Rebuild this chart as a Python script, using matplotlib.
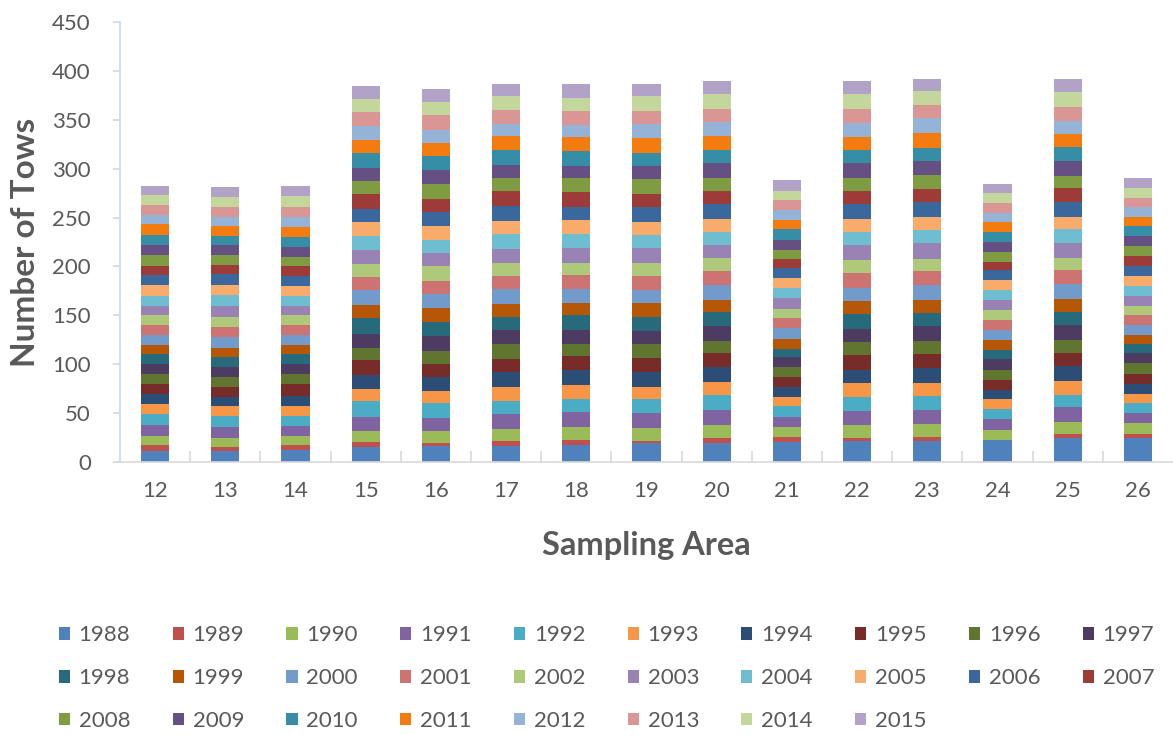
import numpy as np
import matplotlib
matplotlib.use("Agg")
import matplotlib.pyplot as plt
from matplotlib.patches import Patch

plt.rcParams['font.family'] = ['Lato', 'DejaVu Sans']

areas = ["12", "13", "14", "15", "16", "17", "18", "19", "20", "21", "22", "23", "24", "25", "26"]
years = [str(y) for y in range(1988, 2016)]

# Tows per year (1988 ... 2015) for each sampling area
area_12 = [11, 6, 10, 11, 11, 10, 11, 10, 10, 10, 10, 10, 10, 10, 10, 10, 10, 11, 10, 10, 11, 10, 10, 11, 10, 10, 10, 9]
area_13 = [11, 4, 10, 11, 11, 10, 10, 10, 10, 10, 10, 10, 11, 10, 10, 12, 11, 10, 11, 10, 10, 10, 9, 10, 10, 10, 10, 10]
area_14 = [12, 5, 10, 10, 10, 10, 11, 12, 10, 10, 10, 10, 10, 10, 10, 10, 10, 10, 10, 11, 9, 10, 10, 10, 11, 10, 11, 10]
area_15 = [15, 5, 12, 14, 16, 13, 14, 15, 13, 14, 16, 14, 15, 13, 14, 14, 14, 14, 14, 15, 13, 14, 15, 13, 15, 14, 13, 14]
area_16 = [16, 3, 13, 13, 15, 13, 14, 13, 14, 15, 14, 15, 14, 13, 15, 14, 13, 14, 15, 13, 15, 15, 14, 13, 14, 15, 13, 14]
area_17 = [16, 6, 12, 15, 13, 15, 15, 13, 16, 14, 13, 14, 15, 13, 14, 14, 15, 14, 15, 15, 14, 13, 15, 14, 13, 14, 14, 13]
area_18 = [17, 6, 13, 15, 13, 15, 15, 14, 13, 14, 15, 13, 14, 14, 13, 15, 14, 15, 13, 15, 14, 13, 15, 14, 13, 14, 13, 15]
area_19 = [19, 3, 13, 15, 14, 13, 15, 14, 15, 13, 14, 15, 13, 14, 14, 15, 13, 14, 15, 13, 15, 14, 13, 15, 15, 13, 15, 13]
area_20 = [19, 6, 13, 15, 16, 13, 15, 14, 13, 15, 14, 13, 15, 14, 14, 13, 13, 14, 15, 13, 14, 15, 13, 14, 15, 13, 15, 14]
area_21 = [20, 6, 10, 10, 11, 10, 10, 10, 10, 10, 9, 10, 11, 10, 10, 11, 10, 10, 10, 10, 9, 10, 11, 10, 10, 10, 9, 11]
area_22 = [22, 3, 13, 14, 15, 14, 13, 15, 14, 13, 15, 14, 13, 15, 14, 15, 13, 14, 15, 13, 14, 15, 13, 13, 15, 14, 15, 14]
area_23 = [22, 4, 13, 14, 15, 13, 15, 14, 14, 15, 13, 14, 15, 14, 13, 16, 13, 14, 15, 13, 15, 14, 13, 16, 15, 13, 14, 13]
area_24 = [23, 0, 10, 11, 10, 10, 10, 10, 10, 11, 10, 10, 10, 10, 10, 11, 10, 10, 10, 9, 10, 10, 10, 10, 10, 10, 10, 9]
area_25 = [25, 4, 12, 15, 13, 14, 15, 13, 14, 15, 13, 14, 15, 14, 13, 15, 14, 13, 15, 14, 13, 15, 14, 13, 14, 14, 15, 14]
area_26 = [25, 4, 11, 10, 10, 10, 10, 10, 11, 10, 10, 9, 10, 10, 10, 10, 10, 10, 11, 10, 10, 10, 10, 10, 10, 9, 10, 10]

year_colors = [
    "#4F81BD", "#C0504D", "#9BBB59", "#8064A2", "#4BACC6", "#F79646",
    "#2C4D75", "#772C2A", "#5F7530", "#4D3B62", "#276A7C", "#B65708",
    "#729ACA", "#CD7371", "#AFC97A", "#9983B5", "#6FBDD1", "#F9AB6B",
    "#3A679C", "#9C3B38", "#7F9C42", "#664F82", "#358DA6", "#F47B0F",
    "#95B3D7", "#D99694", "#C3D69B", "#B3A2C7",
]

table = np.array([area_12, area_13, area_14, area_15, area_16, area_17, area_18,
                  area_19, area_20, area_21, area_22, area_23, area_24, area_25,
                  area_26], dtype=float).T  # rows = years, cols = areas

text_gray = "#595959"

fig = plt.figure(figsize=(11.73, 7.35), dpi=100)
ax = fig.add_axes([0.1023, 0.3714, 0.8977, 0.5986])

x = np.arange(len(areas))
bottom = np.zeros(len(areas))
for i, yr in enumerate(years):
    ax.bar(x, table[i], width=0.40, bottom=bottom, color=year_colors[i],
           linewidth=0, label=yr, zorder=2)
    bottom += table[i]

ax.set_xlim(-0.5, len(areas) - 0.5)
ax.set_ylim(0, 450)
ax.set_yticks(np.arange(0, 451, 50))
ax.set_xticks(x)
ax.set_xticklabels(areas)

for s in ["top", "right"]:
    ax.spines[s].set_visible(False)
ax.spines["left"].set_color("#C9D8EC")
ax.spines["left"].set_linewidth(1.2)
ax.spines["bottom"].set_color("#D9D9D9")
ax.spines["bottom"].set_linewidth(1.2)

ax.tick_params(axis="y", direction="out", length=5, width=1.2, color="#C9D8EC",
               labelsize=16, labelcolor=text_gray, pad=16)
ax.tick_params(axis="x", length=0, labelsize=16, labelcolor=text_gray, pad=14)

# category separators along the baseline
ax.set_xticks(np.arange(0.5, len(areas) - 0.5, 1.0), minor=True)
ax.tick_params(axis="x", which="minor", direction="in", length=8, width=1.2,
               color="#D9D9D9")

ax.set_ylabel("Number of Tows", fontsize=24, fontweight="bold", color=text_gray,
              labelpad=9)
ax.set_xlabel("Sampling Area", fontsize=23.5, fontweight="bold", color=text_gray,
              labelpad=21)

# legend laid out row by row, ten entries per row
handles = [Patch(facecolor=c, edgecolor="none") for c in year_colors]
ncol = 10
order = []
for c in range(ncol):
    for r in range(3):
        k = c + r * ncol
        if k < len(years):
            order.append(k)
fig.legend([handles[k] for k in order], [years[k] for k in order],
           ncol=ncol, loc="upper left", bbox_to_anchor=(0.050, 0.149),
           borderaxespad=0, borderpad=0,
           frameon=False, fontsize=16, labelcolor=text_gray,
           handlelength=0.5, handleheight=0.5, handletextpad=0.4,
           columnspacing=1.9, labelspacing=1.02)

fig.savefig("out.png", dpi=100)
